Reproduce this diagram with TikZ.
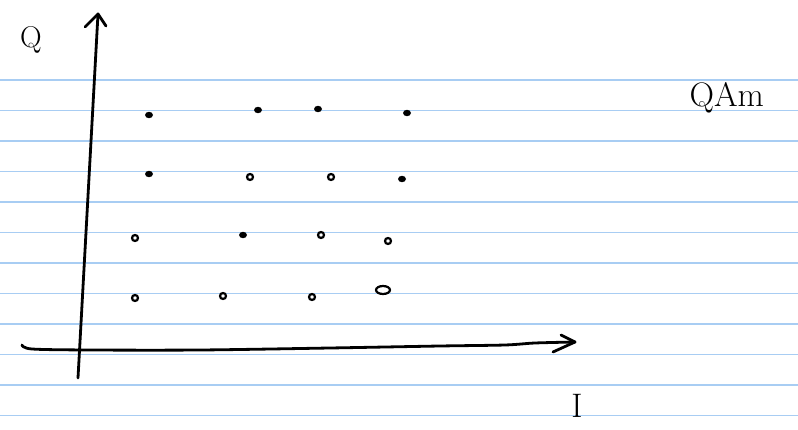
\documentclass[tikz,border=0pt]{standalone}
\usepackage{tikz}
\usetikzlibrary{calc}
\definecolor{ruleblue}{HTML}{A8CDF3}
\tikzset{
  pen/.style = {line width=2.8pt, line cap=round, line join=round},
  dotfill/.style = {fill=black},
  dotring/.style = {draw=black, line width=2.2pt},
  hand/.style = {font=\fontsize{34}{36}\selectfont},
}
\begin{document}
\begin{tikzpicture}[x=1pt, y=-1pt]
                \useasboundingbox[fill=white](0,0)rectangle(798,430);
                % ruled lines
                \foreach \k in {0,...,11}{
                    \path[draw, ruleblue, line width=1.3pt](0,80+30.5*\k)to(798,80+30.5*\k);
                }
                % axes
                \coordinate(O)at(80,349);
                \coordinate(Qtop)at(98,14);
                \coordinate(Qbot)at(78,378);
                \coordinate(Istart)at(22,345);
                \coordinate(Iend)at(575,342);
                \path[draw, pen](Qbot)to(Qtop);
                \path[draw, pen]($(Qtop)+(-13,13)$)to(Qtop)to($(Qtop)+(8,12)$);
                \path[draw, pen]plot[smooth]coordinates{(Istart)(32,349)(90,350)(200,350)(330,348)(440,346)(505,345)(535,343)(Iend)};
                \path[draw, pen]($(Iend)+(-14,-7)$)to(Iend)to($(Iend)+(-22,10)$);
                % labels
                \node[hand, font=\fontsize{30}{32}\selectfont](Qlabel)at(31,40){Q};
                \node[hand, anchor=west](title)at(686,98){QAm};
                \node[hand](Ilabel)at(577,406){I};
                % constellation points
                \foreach \x/\y in {149/115, 258/110, 318/109, 407/113,
                                   149/174, 402/179, 243/235}{
                    \path[dotfill](\x,\y)ellipse(4pt and 3.2pt);
                }
                \foreach \x/\y in {250/177, 331/177, 135/238, 321/235,
                                   388/241, 135/298, 223/296, 312/297}{
                    \path[dotring](\x,\y)ellipse(3pt and 3pt);
                }
                \path[dotring](383,290)ellipse(7pt and 4pt);
\end{tikzpicture}
\end{document}
